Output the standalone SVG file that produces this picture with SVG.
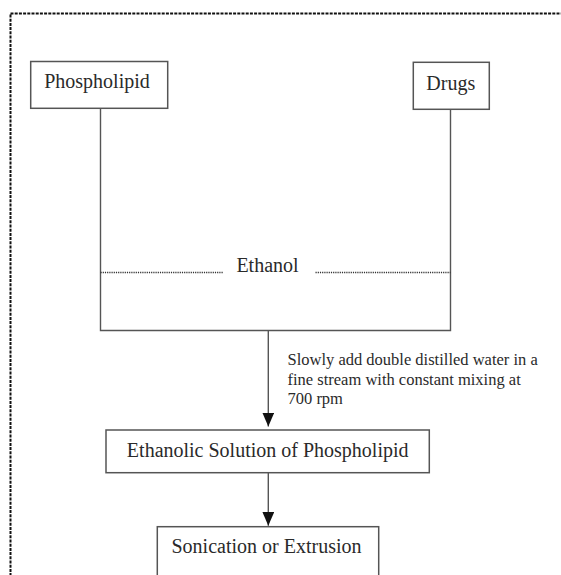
<svg xmlns="http://www.w3.org/2000/svg" width="561" height="575" viewBox="0 0 561 575">
<style>
.box{fill:#fff;stroke:#555;stroke-width:1.5}
.t{font-family:"Liberation Serif",serif;font-size:20px;fill:#2a2a2a;text-anchor:middle}
.n{font-family:"Liberation Serif",serif;font-size:16.5px;fill:#2a2a2a}
.ln{fill:none;stroke:#555;stroke-width:1.4}
.dot{fill:none;stroke:#333;stroke-width:1.6;stroke-dasharray:1.2 1}
</style>
<defs>
<marker id="arr" viewBox="0 0 14 12" refX="14" refY="6" markerWidth="14" markerHeight="12" markerUnits="userSpaceOnUse" orient="auto">
<path d="M0,0 L14,6 L0,12 Z" fill="#111"/>
</marker>
</defs>
<rect x="10.5" y="13.5" width="600" height="620" fill="none" stroke="#111" stroke-width="2" stroke-dasharray="3 1.2"/>
<g id="connectors">
<path class="ln" d="M100.5,109 V330.5 H450.5 V110"/>
<path class="dot" d="M100.5,272.5 H223.5"/>
<path class="dot" d="M315.5,272.5 H450.5"/>
<path class="ln" d="M268.3,330.5 V426.5" marker-end="url(#arr)"/>
<path class="ln" d="M268.3,473 V525.7" marker-end="url(#arr)"/>
</g>
<g id="phospholipid">
<rect class="box" x="30.7" y="61.5" width="137" height="46.8"/>
<text class="t" x="97" y="88.3">Phospholipid</text>
</g>
<g id="drugs">
<rect class="box" x="413.3" y="62.3" width="76" height="47"/>
<text class="t" x="450.8" y="90">Drugs</text>
</g>
<g id="ethanol">
<text class="t" x="267.5" y="272">Ethanol</text>
</g>
<g id="note">
<text class="n" x="287.5" y="365">Slowly add double distilled water in a</text>
<text class="n" x="287.5" y="384.5">fine stream with constant mixing at</text>
<text class="n" x="287.5" y="404">700 rpm</text>
</g>
<g id="ethanolic">
<rect class="box" x="106" y="430" width="323.3" height="42.7"/>
<text class="t" x="267.7" y="456.5">Ethanolic Solution of Phospholipid</text>
</g>
<g id="sonication">
<rect class="box" x="157.3" y="526.7" width="221.4" height="60"/>
<text class="t" x="266.5" y="553.3">Sonication or Extrusion</text>
</g>
</svg>
